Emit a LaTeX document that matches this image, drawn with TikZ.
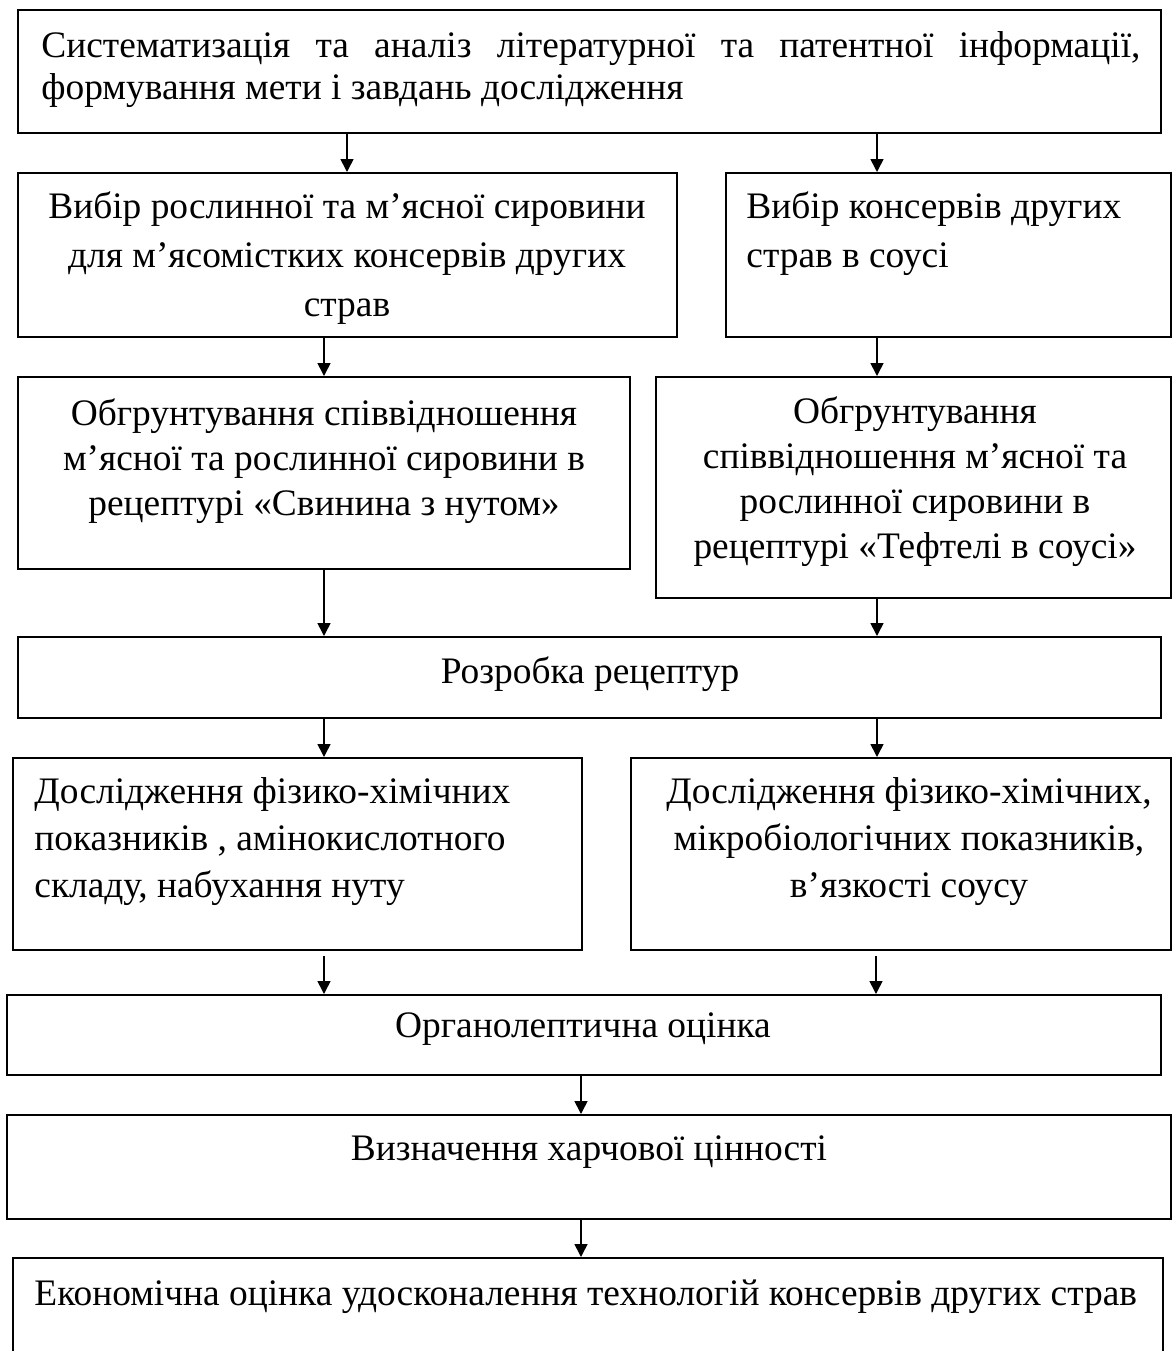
\documentclass[tikz,border=0pt]{standalone}
\usepackage{fontspec}
\setmainfont{Liberation Serif}
\usepackage{tikz}
\usetikzlibrary{fit}
\usetikzlibrary{calc}
\usetikzlibrary{arrows.meta}
\tikzset{
  stage/.style={draw, line width=1pt, inner sep=0pt},
  flow/.style={line width=0.8pt, -{Triangle[length=6.5pt,width=6.5pt]}},
  stagetext/.style={inner sep=0pt, font=\fontsize{18.7}{#1}\selectfont},
  stagetext/.default=22.5pt
}
\newcommand{\stagebox}[5]{%
% frame from (#2,#3) to (#4,#5), in pixels
\node[stage, fit={(#2,#3) (#4,#5)}] (#1) {};
}
\newcommand{\stageflow}[4][]{%
% vertical arrow at x = #4
\draw[flow,#1] (#2.south -| #4,0) -- (#3.north -| #4,0);
}

\begin{document}
\begin{tikzpicture}[x=0.5pt, y=-0.5pt]
\useasboundingbox (0,0) rectangle (1172,1351);
% frames
\stagebox{lit}{18}{10}{1161}{133}
\stagebox{rawsel}{18}{173}{677}{337}
\stagebox{cansel}{726}{173}{1171}{337}
\stagebox{ratiopork}{18}{377}{630}{569}
\stagebox{ratioball}{656}{377}{1171}{598}
\stagebox{recipe}{18}{637}{1161}{718}
\stagebox{physpork}{13}{758}{582}{950}
\stagebox{physball}{631}{758}{1171}{950}
\stagebox{organ}{7}{995}{1161}{1075}
\stagebox{nutr}{7}{1115}{1171}{1219}
\stagebox{econ}{13}{1258}{1163}{1380}
% texts (base = last line, except with text width)
\node[stagetext=21pt, anchor=base west, text width=549.5pt, align=justify] (lit-t) at (41,57)
  {Систематизація та аналіз літературної та патентної інформації,\linebreak формування мети і завдань дослідження};
\node[stagetext=24.5pt, anchor=base, align=center] (rawsel-t) at (347,316)
  {Вибір рослинної та м’ясної сировини\\для м’ясомістких консервів других\\страв};
\node[stagetext=24.5pt, anchor=base west, align=left] (cansel-t) at (746,267)
  {Вибір консервів других\\страв в соусі};
\node[stagetext, anchor=base, align=center] (ratiopork-t) at (324,515)
  {Обгрунтування співвідношення\\м’ясної та рослинної сировини в\\рецептурі «Свинина з нутом»};
\node[stagetext, anchor=base, align=center] (ratioball-t) at (915,558)
  {Обгрунтування\\співвідношення м’ясної та\\рослинної сировини в\\рецептурі «Тефтелі в соусі»};
\node[stagetext, anchor=base] (recipe-t) at (590,683) {Розробка рецептур};
\node[stagetext=23.5pt, anchor=base west, align=left] (physpork-t) at (34,897)
  {Дослідження фізико-хімічних\\показників , амінокислотного\\складу, набухання нуту};
\node[stagetext=23.5pt, anchor=base, align=center] (physball-t) at (909,897)
  {Дослідження фізико-хімічних,\\мікробіологічних показників,\\в’язкості соусу};
\node[stagetext, anchor=base] (organ-t) at (583,1037) {Органолептична оцінка};
\node[stagetext, anchor=base] (nutr-t) at (589,1160) {Визначення харчової цінності};
\node[stagetext, anchor=base west] (econ-t) at (34,1305)
  {Економічна оцінка удосконалення технологій консервів других страв};
% arrows
\stageflow{lit}{rawsel}{347}
\stageflow{lit}{cansel}{877}
\stageflow{rawsel}{ratiopork}{324}
\stageflow{cansel}{ratioball}{877}
\stageflow{ratiopork}{recipe}{324}
\stageflow{ratioball}{recipe}{877}
\stageflow{recipe}{physpork}{324}
\stageflow{recipe}{physball}{877}
\stageflow[shorten <=2.5pt]{physpork}{organ}{324}
\stageflow[shorten <=2.5pt]{physball}{organ}{876}
\stageflow{organ}{nutr}{581}
\stageflow{nutr}{econ}{581}
\end{tikzpicture}
\end{document}
